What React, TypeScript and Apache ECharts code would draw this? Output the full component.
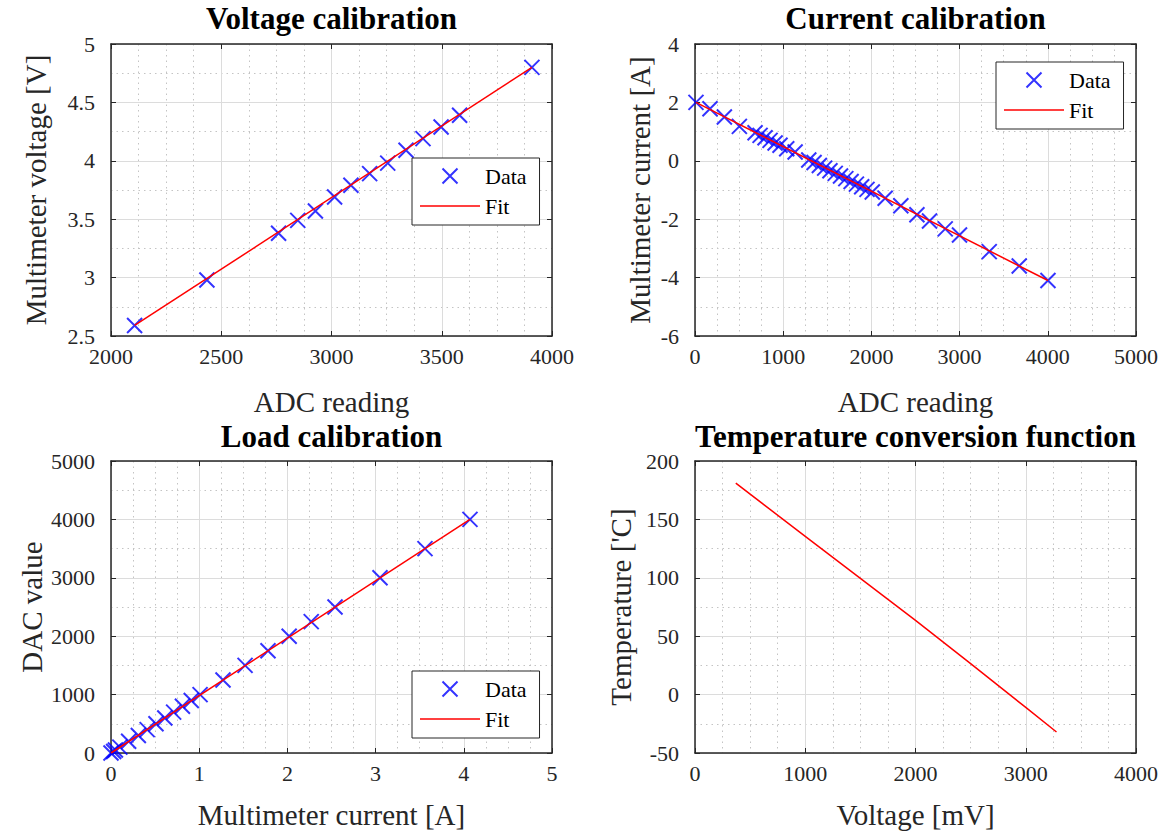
import React, { useEffect, useRef } from 'react';
import * as echarts from 'echarts';

// ---- Voltage calibration ----
const voltAdc = [2107, 2435, 2760, 2847, 2927, 3014, 3088, 3173, 3255, 3338, 3415, 3497, 3581, 3909];
const voltMeas = [2.59, 2.98, 3.38, 3.49, 3.57, 3.69, 3.79, 3.89, 3.98, 4.09, 4.19, 4.29, 4.39, 4.8];
const voltFitX = [2107, 3909];
const voltFitY = [2.59, 4.8];

// ---- Current calibration ----
const curAdc = [
  11, 170, 333, 503, 681, 738, 794, 851, 908, 964, 1040, 1135,
  1290, 1350, 1410, 1470, 1530, 1590, 1650, 1710, 1770, 1830, 1890, 1950, 2010,
  2156, 2334, 2516, 2659, 2837, 2999, 3336, 3676, 4002,
];
const curMeas = [
  2.0, 1.78, 1.5, 1.18, 0.96, 0.87, 0.79, 0.7, 0.61, 0.53, 0.41, 0.3,
  0.03, -0.06, -0.16, -0.25, -0.34, -0.43, -0.52, -0.61, -0.71, -0.8, -0.89, -0.98, -1.07,
  -1.28, -1.54, -1.85, -2.06, -2.33, -2.54, -3.11, -3.6, -4.1,
];
const curFitX = [11, 4002];
const curFitY = [2.0, -4.1];

// ---- Load calibration ----
const loadCurrent = [0.0, 0.03, 0.05, 0.1, 0.2, 0.31, 0.41, 0.51, 0.61, 0.71, 0.81, 0.91, 1.01, 1.27, 1.52, 1.78, 2.02, 2.27, 2.54, 3.05, 3.56, 4.07];
const loadDac = [0, 25, 50, 100, 200, 300, 400, 500, 600, 700, 800, 900, 1000, 1250, 1500, 1750, 2000, 2250, 2500, 3000, 3500, 4000];
const loadFitX = [0, 4.07];
const loadFitY = [0, 4000];

// ---- Temperature conversion ----
const tempMv = [370, 1000, 1500, 2000, 2500, 3000, 3279];
const tempC = [181, 135.5, 99.5, 63.5, 26.5, -11, -32];

const titles = ['Voltage calibration', 'Current calibration', 'Load calibration', 'Temperature conversion function'];
const xNames = ['ADC reading', 'ADC reading', 'Multimeter current [A]', 'Voltage [mV]'];
const yNames = ['Multimeter voltage [V]', 'Multimeter current [A]', 'DAC value', "Temperature ['C]"];

const FONT = "'Liberation Serif', 'Times New Roman', serif";
const AX = '#262626';

const grids = [
  { left: 111, top: 44, width: 441, height: 292 },
  { left: 695, top: 44, width: 441, height: 292 },
  { left: 111, top: 461, width: 441, height: 292 },
  { left: 695, top: 461, width: 441, height: 292 },
];

const ranges = [
  { x: [2000, 4000, 500, 4], y: [2.5, 5, 0.5, 2] },
  { x: [0, 5000, 1000, 4], y: [-6, 4, 2, 2] },
  { x: [0, 5, 1, 4], y: [0, 5000, 1000, 2] },
  { x: [0, 4000, 1000, 4], y: [-50, 200, 50, 2] },
];

const fmt = (v: number) => String(Math.round(v * 1000) / 1000);

function mainAxis(r: number[], gi: number, isX: boolean) {
  return {
    type: 'value',
    gridIndex: gi,
    position: isX ? 'bottom' : 'left',
    min: r[0],
    max: r[1],
    interval: r[2],
    axisLine: { show: true, onZero: false, lineStyle: { color: AX, width: 1.5 } },
    axisTick: { show: true, inside: true, length: 5, lineStyle: { color: AX } },
    axisLabel: {
      show: true,
      formatter: fmt,
      color: AX,
      fontSize: 22,
      fontFamily: 'Liberation Serif',
      margin: isX ? 9 : 16,
    },
    splitLine: { show: true, lineStyle: { color: '#dcdcdc', width: 1 } },
    minorTick: { show: false, splitNumber: r[3] },
    minorSplitLine: { show: true, lineStyle: { color: '#c4c4c4', width: 1, type: [1.5, 4] } },
  };
}

function sideAxis(r: number[], gi: number, isX: boolean) {
  return {
    type: 'value',
    gridIndex: gi,
    position: isX ? 'top' : 'right',
    min: r[0],
    max: r[1],
    interval: r[2],
    axisLine: { show: true, onZero: false, lineStyle: { color: AX, width: 1.5 } },
    axisTick: { show: true, inside: true, length: 5, lineStyle: { color: AX } },
    axisLabel: { show: false },
    splitLine: { show: false },
  };
}

const CROSS = 'path://M0,0L10,10M10,0L0,10';
const LINE_ICON = 'path://M0,0L60,0L60,1.5L0,1.5Z';

function scatter(name: string, idx: number, xs: number[], ys: number[]) {
  return {
    name,
    type: 'scatter',
    xAxisIndex: idx * 2,
    yAxisIndex: idx * 2,
    symbol: CROSS,
    symbolSize: 15,
    itemStyle: { color: '#0000ff', borderColor: '#0000ff', borderWidth: 2 },
    data: xs.map((x, i) => [x, ys[i]]),
    z: 3,
  };
}

function line(name: string, idx: number, xs: number[], ys: number[]) {
  return {
    name,
    type: 'line',
    xAxisIndex: idx * 2,
    yAxisIndex: idx * 2,
    symbol: 'none',
    showSymbol: false,
    lineStyle: { color: '#ff0000', width: 1.5 },
    itemStyle: { color: '#ff0000' },
    data: xs.map((x, i) => [x, ys[i]]),
    z: 4,
  };
}

function legendAt(left: number, top: number) {
  return {
    data: ['Data', { name: 'Fit', icon: LINE_ICON }],
    orient: 'vertical',
    left,
    top,
    itemWidth: 60,
    itemHeight: 15,
    itemGap: 6,
    padding: [6, 13, 7, 8],
    borderColor: AX,
    borderWidth: 1,
    backgroundColor: '#ffffff',
    selectedMode: false,
    textStyle: { fontSize: 22, lineHeight: 24, fontFamily: 'Liberation Serif', color: '#000' },
  };
}

export default function App() {
  const ref = useRef<HTMLDivElement>(null);
  useEffect(() => {
    if (!ref.current) return;
    const chart = echarts.init(ref.current, null, { renderer: 'svg' });
    const xAxis: any[] = [];
    const yAxis: any[] = [];
    ranges.forEach((r, i) => {
      xAxis.push(mainAxis(r.x, i, true));
      xAxis.push(sideAxis(r.x, i, true));
      yAxis.push(mainAxis(r.y, i, false));
      yAxis.push(sideAxis(r.y, i, false));
    });
    const graphic: any[] = [];
    grids.forEach((g, i) => {
      graphic.push({
        type: 'text',
        x: g.left + g.width / 2,
        y: i < 2 ? g.top + g.height + 66 : g.top + g.height + 62,
        style: { text: xNames[i], font: `29px ${FONT}`, fill: AX, align: 'center', verticalAlign: 'middle' },
      });
    });
    const yNameX = [36, 640, 32, 621];
    grids.forEach((g, i) => {
      graphic.push({
        type: 'text',
        x: yNameX[i],
        y: g.top + g.height / 2,
        rotation: Math.PI / 2,
        style: { text: yNames[i], font: `29px ${FONT}`, fill: AX, align: 'center', verticalAlign: 'middle' },
      });
    });
    const option: any = {
      animation: false,
      backgroundColor: '#ffffff',
      textStyle: { fontFamily: 'Liberation Serif' },
      title: grids.map((g, i) => ({
        text: titles[i],
        left: g.left + g.width / 2,
        top: i < 2 ? 3 : 421,
        textAlign: 'center',
        padding: 0,
        textStyle: { fontSize: 31, fontWeight: 'bold', fontFamily: 'Liberation Serif', color: '#000' },
      })),
      grid: grids.map((g) => ({ ...g, show: false, containLabel: false })),
      xAxis,
      yAxis,
      legend: [legendAt(412, 158), legendAt(996, 62), legendAt(412, 671)],
      graphic,
      series: [
        scatter('Data', 0, voltAdc, voltMeas),
        line('Fit', 0, voltFitX, voltFitY),
        scatter('Data', 1, curAdc, curMeas),
        line('Fit', 1, curFitX, curFitY),
        scatter('Data', 2, loadCurrent, loadDac),
        line('Fit', 2, loadFitX, loadFitY),
        line('Temperature', 3, tempMv, tempC),
      ],
    };
    chart.setOption(option);
    return () => chart.dispose();
  }, []);
  return (
    <div
      ref={ref}
      style={{ position: 'absolute', left: 0, top: 0, width: 1168, height: 835, background: '#fff' }}
    />
  );
}
